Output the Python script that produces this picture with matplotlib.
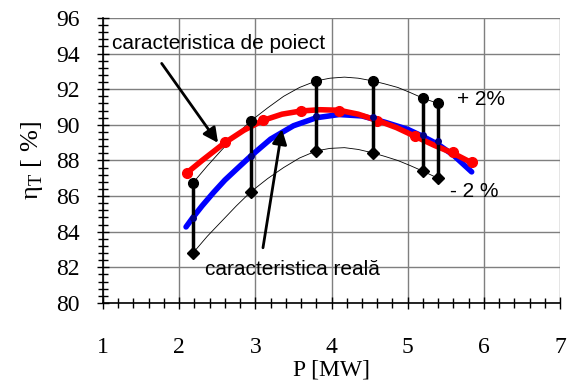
import matplotlib.pyplot as plt
from matplotlib.ticker import MultipleLocator

# design characteristic (red)
red_x = [2.1, 2.6, 3.1, 3.6, 4.1, 4.6, 5.1, 5.6, 5.85]
red_y = [87.3, 89.05, 90.3, 90.8, 90.8, 90.2, 89.4, 88.5, 87.9]
red_line_x = [2.1, 2.3, 2.6, 2.85, 3.1, 3.35, 3.6, 3.85, 4.1, 4.35, 4.6, 4.85, 5.1, 5.35, 5.6, 5.85]
red_line_y = [87.3, 88.0, 89.0, 89.7, 90.25, 90.6, 90.78, 90.85, 90.82, 90.6, 90.25, 89.85, 89.35, 88.85, 88.4, 87.85]

# real characteristic (blue)
blue_line_x = [2.09, 2.18, 2.3, 2.45, 2.6, 2.75, 2.94, 3.2, 3.5, 3.8, 4.1, 4.4, 4.7, 5.0, 5.2, 5.4, 5.6, 5.84]
blue_line_y = [84.27, 84.8, 85.45, 86.2, 86.9, 87.5, 88.25, 89.2, 89.95, 90.4, 90.58, 90.5, 90.15, 89.75, 89.35, 88.9, 88.3, 87.36]

# measured points with +/- 2 % band
meas_x = [2.18, 2.94, 3.8, 4.54, 5.2, 5.4]
meas_y = [84.77, 88.23, 90.5, 90.45, 89.45, 89.1]
upper = [86.74, 90.22, 92.47, 92.47, 91.5, 91.2]
lower = [82.8, 86.24, 88.54, 88.43, 87.4, 87.0]

# thin envelope curves
env_x = [2.18, 2.37, 2.56, 2.75, 2.94, 3.16, 3.37, 3.58, 3.8, 3.98, 4.17, 4.35, 4.54, 4.7, 4.87, 5.03, 5.2, 5.4]
env_up = [86.74, 87.7, 88.6, 89.45, 90.22, 90.95, 91.6, 92.1, 92.47, 92.62, 92.68, 92.62, 92.47, 92.3, 92.1, 91.82, 91.5, 91.2]
env_lo = [82.8, 83.75, 84.6, 85.45, 86.24, 86.98, 87.6, 88.14, 88.54, 88.68, 88.72, 88.62, 88.43, 88.23, 88.0, 87.72, 87.4, 87.0]

fig = plt.figure(figsize=(5.67, 3.87), dpi=100)
ax = fig.add_axes([0.1817, 0.2171, 0.806, 0.7364])

ax.set_xlim(1, 7)
ax.set_ylim(80, 96)
ax.xaxis.set_major_locator(MultipleLocator(1))
ax.xaxis.set_minor_locator(MultipleLocator(0.2))
ax.yaxis.set_major_locator(MultipleLocator(2))
ax.yaxis.set_minor_locator(MultipleLocator(0.4))
ax.grid(True, which='major', color='#7f7f7f', linewidth=1.0)
ax.set_axisbelow(True)
for s in ['top', 'right']:
    ax.spines[s].set_visible(False)
for s in ['left', 'bottom']:
    ax.spines[s].set_linewidth(1.2)
ax.tick_params(which='both', direction='inout', length=9, width=1, labelsize=17)
ax.tick_params(which='minor', length=7)
ax.tick_params(axis='y', pad=12)
ax.tick_params(axis='x', pad=20)
for lab in ax.get_xticklabels() + ax.get_yticklabels():
    lab.set_fontfamily('Liberation Serif')

ax.plot(env_x, env_up, color='black', linewidth=0.6)
ax.plot(env_x, env_lo, color='black', linewidth=0.6)

ax.plot(blue_line_x, blue_line_y, color='#0000ff', linewidth=4, solid_capstyle='round', zorder=3)
ax.plot(red_line_x, red_line_y, color='#ff0000', linewidth=4, solid_capstyle='round', zorder=4)
ax.plot(red_x, red_y, 'o', color='#ff0000', markersize=7, zorder=4)

ax.vlines(meas_x, lower, upper, color='black', linewidth=2.5, zorder=5)
ax.plot(meas_x, upper, 'o', color='black', markersize=7, zorder=6)
ax.plot(meas_x, lower, 'D', color='black', markersize=6, zorder=6)
ax.plot(meas_x, meas_y, 'o', color='#000080', markersize=4, zorder=6)

ax.text(1.12, 94.55, 'caracteristica de poiect', fontsize=15, fontfamily='Liberation Sans',
        va='center', ha='left')
ax.annotate('', xy=(2.51, 88.99), xytext=(1.77, 93.45),
            arrowprops=dict(arrowstyle='-|>', color='black', lw=2, mutation_scale=22,
                            shrinkA=0, shrinkB=0), zorder=7)
ax.annotate('', xy=(3.35, 89.75), xytext=(3.1, 83.1),
            arrowprops=dict(arrowstyle='-|>', color='black', lw=2, mutation_scale=22,
                            shrinkA=0, shrinkB=0), zorder=7)
ax.text(2.34, 81.9, 'caracteristica reală', fontsize=15, fontfamily='Liberation Sans',
        va='center', ha='left')
ax.text(5.65, 91.45, '+ 2%', fontsize=15, fontfamily='Liberation Sans', va='center', ha='left')
ax.text(5.55, 86.25, '- 2 %', fontsize=15, fontfamily='Liberation Sans', va='center', ha='left')

ax.set_xlabel('P [MW]', fontsize=17, fontfamily='Liberation Serif', labelpad=1)
ax.set_ylabel(r'η$_\mathregular{T}$ [ %]', fontsize=19, fontfamily='Liberation Serif', labelpad=8)

fig.savefig('out.png', dpi=100)
